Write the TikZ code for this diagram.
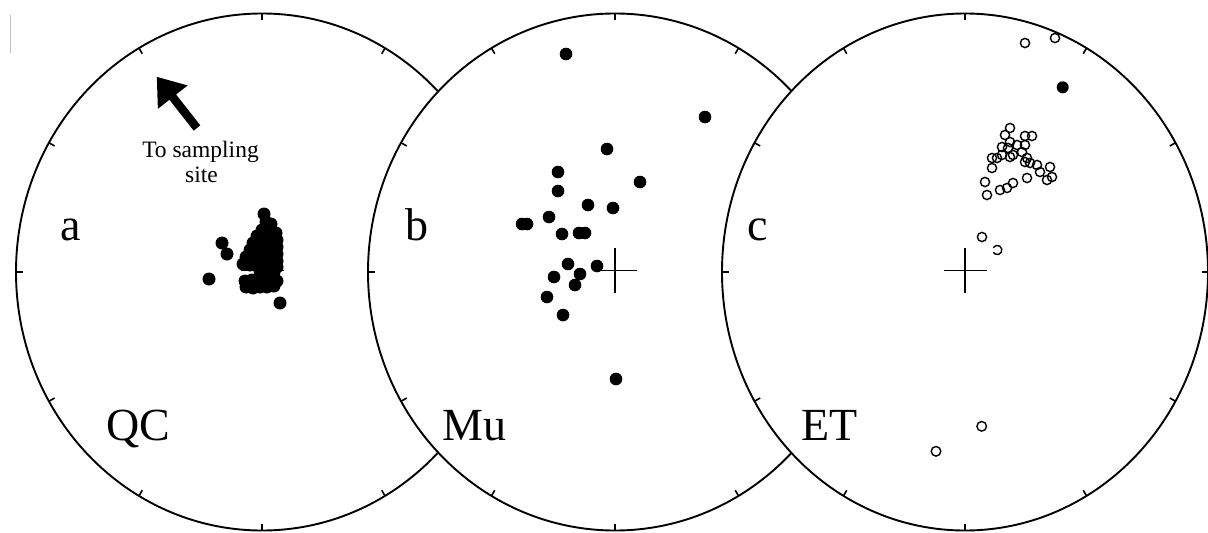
\documentclass[tikz,border=0pt]{standalone}
\usepackage{fontspec}
\setmainfont{Liberation Serif}
\usetikzlibrary{arrows.meta}
\newcommand{\drawnet}[3]{%
  \filldraw[fill=white, netline] (#1,#3) ellipse [x radius=#2, y radius=258.5];
  \foreach \ang in {0,30,...,330} {
    \draw[tickmark] ({#1+#2*cos(\ang)},{#3-258.5*sin(\ang)}) -- ({#1+(#2-6.5)*cos(\ang)},{#3-(258.5-6.5)*sin(\ang)});
  }
  \draw[netline] (#1-21.5,#3-1.5) -- (#1+21.5,#3-1.5);
  \draw[netline] (#1,#3-24) -- (#1,#3+21);
}
\begin{document}
\begin{tikzpicture}[x=1pt,y=-1pt,
  netline/.style={line width=1.9pt, draw=black},
  tickmark/.style={line width=1.6pt, draw=black},
  fulldot/.style={fill=black},
  ring/.style={draw=black, line width=1.4pt},
  lab/.style={inner sep=0pt, anchor=base west, font=\fontsize{46}{50}\selectfont},
  note/.style={inner sep=0pt, anchor=base, font=\fontsize{23.5}{25}\selectfont}]
\useasboundingbox (0,0) rectangle (1208,533);
\fill[white] (0,0) rectangle (1208,533);
\draw[black!25, line width=1pt] (10,15) -- (10,53);

% ---------- net a ----------
\drawnet{262}{246}{272}
\foreach \px/\py in {222/243, 227/254, 209/279, 280/303,
  264/214, 266/222, 271/224, 262/230, 270/230, 276/233,
  257/236, 265/237, 272/238, 277/240,
  253/243, 260/244, 267/244, 273/245, 277/247,
  250/250, 257/251, 264/251, 271/251, 277/254,
  246/257, 253/258, 260/258, 267/258, 273/258, 277/261,
  243/264, 250/265, 257/265, 264/265, 271/265, 277/267,
  260/271, 267/272, 274/272,
  245/281, 252/280, 259/279, 266/279, 273/279, 277/281,
  246/287, 253/288, 260/287, 267/287, 274/286}
  \fill[fulldot] (\px,\py) circle [radius=6.5];
\coordinate (arrowtail) at (197,128);
\coordinate (arrowtip) at (156.7,76.7);
\draw[line width=8.5pt, -{Triangle[length=26pt,width=36pt]}] (arrowtail) -- (arrowtip);
\node[note] (sampl1) at (200.5,157) {To sampling};
\node[note] (sampl2) at (201.5,182) {site};
\node[lab] (la) at (60,240) {a};
\node[lab] (qc) at (106,440) {QC};

% ---------- net b ----------
\drawnet{615}{247}{272}
\foreach \px/\py in {566/54, 705/117, 607/149, 558/172, 640/182, 558/191,
  588/205, 613/208, 549/217, 522/224, 527/224, 562/234, 579/233, 585/233,
  568/264, 597/266, 554/277, 580/274, 575/285, 547/297, 563/315, 616/379}
  \fill[fulldot] (\px,\py) circle [radius=6.3];
\node[lab] (lb) at (405,240) {b};
\node[lab] (mu) at (442,440) {Mu};

% ---------- net c ----------
\drawnet{965}{243}{272}
\foreach \px/\py in {1010/128, 1005/135, 1025/136, 1032/136, 1002/147, 1010/142,
  1017/145, 1025/145, 1008/148, 1022/152, 1002/155, 1010/157, 992/158, 997/158,
  1013/155, 1027/158, 1025/162, 1030/163, 1037/165, 992/168, 1040/172, 1050/167,
  1052/177, 1047/180, 985/182, 1027/178, 1013/183, 1007/188, 1000/190, 987/195,
  1025/43, 1055/38, 982/237}
  \draw[ring] (\px,\py) circle [radius=4.6];
\draw[ring] (997.3,250) ++(-150:4.6) arc [start angle=-150, end angle=150, radius=4.6];
\draw[ring] (981.7,426.3) circle [radius=4.8];
\draw[ring] (936,451.3) circle [radius=4.8];
\fill[fulldot] (1062.7,87.3) circle [radius=6];
\node[lab] (lc) at (747,240) {c};
\node[lab] (et) at (801,440) {ET};
\end{tikzpicture}
\end{document}
